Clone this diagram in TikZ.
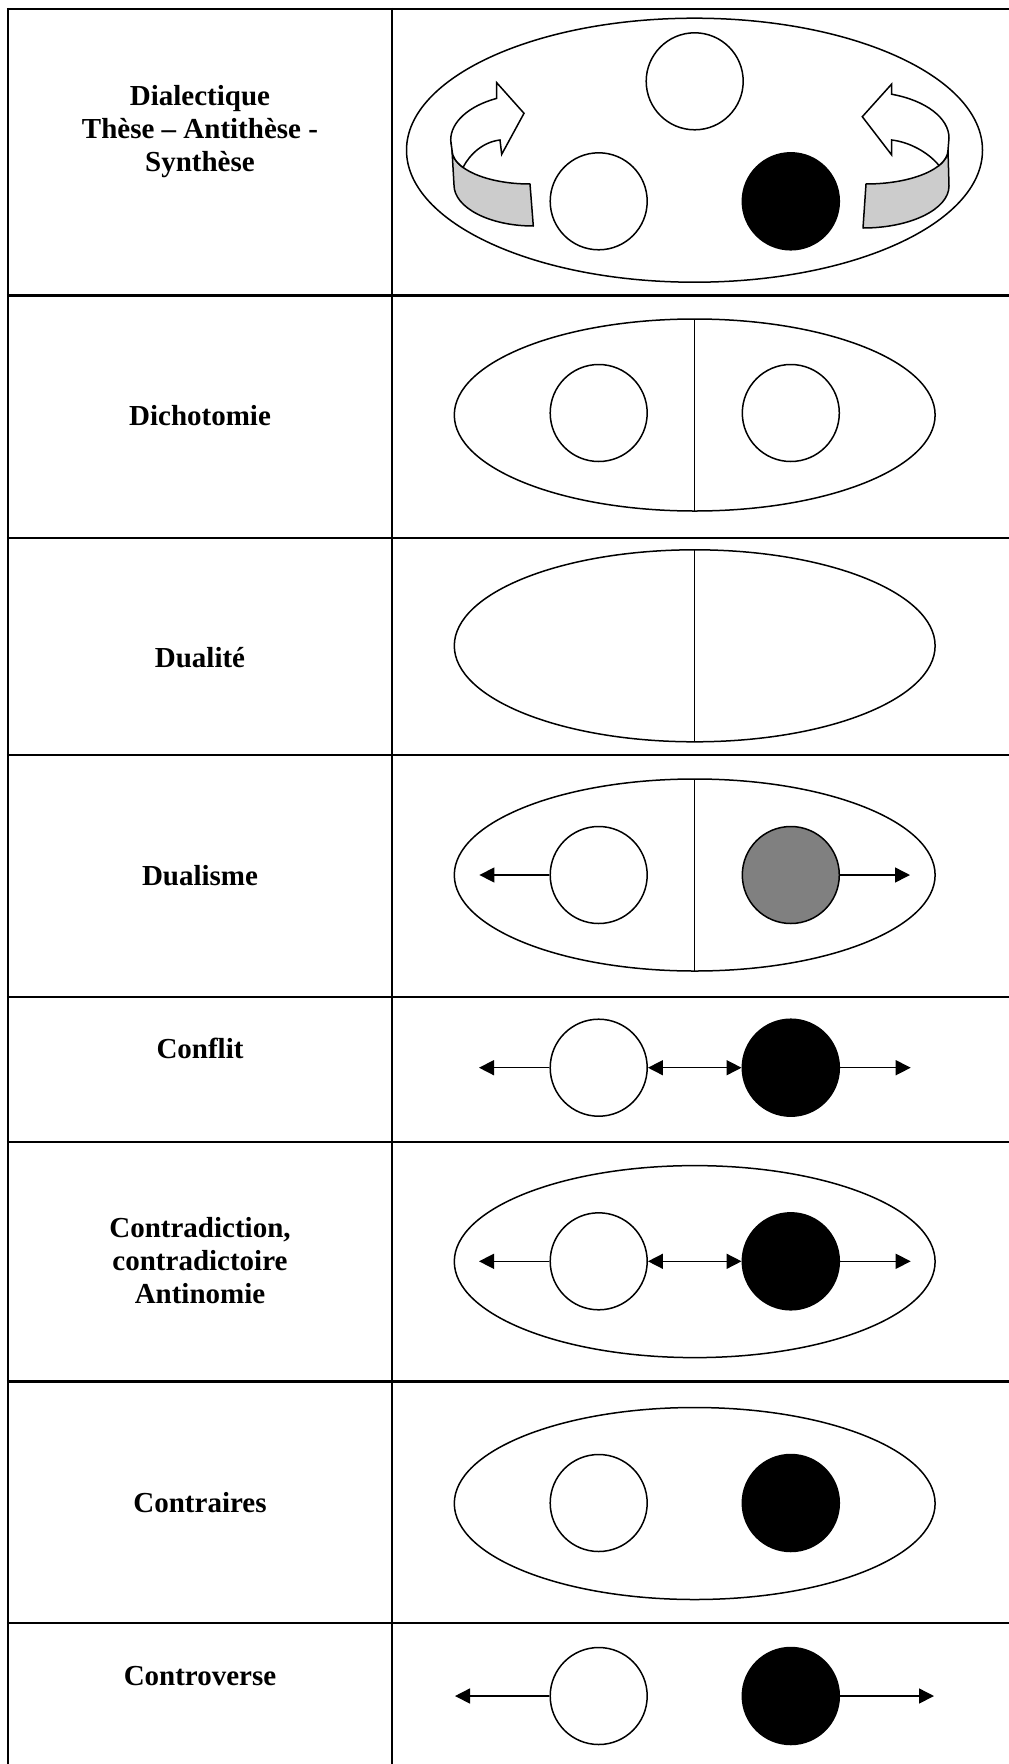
\documentclass[tikz,border=0pt]{standalone}
\usepackage{fontspec}
\setmainfont{Liberation Serif}
\usetikzlibrary{arrows.meta}
\begin{document}
\begin{tikzpicture}[x=1pt,y=-1pt,
  tbl/.style={line width=2.2pt},
  shp/.style={line width=1.5pt},
  circ/.style={circle, draw, line width=1.5pt, minimum size=97pt, inner sep=0pt, fill=white},
  lbl/.style={font=\fontsize{29}{33}\selectfont\bfseries, align=center, inner sep=0pt},
  arr/.style={line width=1.5pt, -{Triangle[length=15pt,width=15pt]}},
  darr/.style={line width=1.5pt, {Triangle[length=15pt,width=15pt]}-{Triangle[length=15pt,width=15pt]}},
  band/.style={line width=1.5pt, fill=black!20, line join=round},
  barrow/.style={line width=1.5pt, fill=white, line join=miter}
]
\useasboundingbox (0,0) rectangle (1009,1764);
\fill[white] (0,0) rectangle (1009,1764);

% table
\foreach \yy in {9,295.5,538,755,997,1142,1381.5,1623}
  \draw[tbl] (6.9,\yy) -- (1009,\yy);
\draw[tbl] (8,7.9) -- (8,1764);
\draw[tbl] (392,7.9) -- (392,1764);

% labels
\node[lbl] (t1) at (200,131.4) {Dialectique\\Thèse – Antithèse -\\Synthèse};
\node[lbl, anchor=base] (t2) at (200,425) {Dichotomie};
\node[lbl, anchor=base] (t3) at (200,667) {Dualité};
\node[lbl, anchor=base] (t4) at (200,885) {Dualisme};
\node[lbl, anchor=base] (t5) at (200,1058.6) {Conflit};
\node[lbl] (t6) at (200,1260.2) {Contradiction,\\contradictoire\\Antinomie};
\node[lbl, anchor=base] (t7) at (200,1512) {Contraires};
\node[lbl, anchor=base] (t8) at (200,1685) {Controverse};

% row 1: dialectique
\draw[shp] (694.5,150.2) ellipse [x radius=288, y radius=132];
% left curved arrow
\draw[band] (452,150) arc[start angle=180, end angle=90, x radius=78, y radius=34]
  -- (533.3,226) arc[start angle=90, end angle=180, x radius=79.3, y radius=41] -- cycle;
\draw[barrow] (452,150) -- (450.7,140)
  arc[start angle=180, end angle=244.85, x radius=80, y radius=46]
  -- (496.7,82.7) -- (524,113.3) -- (501.7,154.3) -- (500,140)
  .. controls (483,142) and (470,154) .. (463,167.4)
  arc[start angle=149.2, end angle=180, x radius=78, y radius=34] -- cycle;
% right curved arrow
\draw[band] (948,150) arc[start angle=0, end angle=90, x radius=82, y radius=34]
  -- (863,228) arc[start angle=90, end angle=0, x radius=86, y radius=42] -- cycle;
\draw[barrow] (948,150) -- (949,138)
  arc[start angle=0, end angle=-72, x radius=83, y radius=46]
  -- (891.7,84) -- (862.3,116.7) -- (891.7,155) -- (891.7,140)
  .. controls (909,142) and (928,152) .. (939,165.5)
  arc[start angle=27.1, end angle=0, x radius=82, y radius=34] -- cycle;
\node[circ] (s1) at (694.7,81.3) {};
\node[circ] (a1) at (598.7,201.3) {};
\node[circ, fill=black] (b1) at (790.8,201.3) {};

% row 2: dichotomie
\draw[shp] (694.7,415) ellipse [x radius=240.4, y radius=96];
\draw[shp] (694.7,319) -- (694.7,511);
\node[circ] (a2) at (598.7,413) {};
\node[circ] (b2) at (790.8,413) {};

% row 3: dualite
\draw[shp] (694.7,645.8) ellipse [x radius=240.4, y radius=96];
\draw[shp] (694.7,549.8) -- (694.7,741.8);

% row 4: dualisme
\draw[shp] (694.7,875) ellipse [x radius=240.4, y radius=96];
\draw[shp] (694.7,779) -- (694.7,971);
\node[circ] (a4) at (598.7,875) {};
\node[circ, fill=black!50] (b4) at (790.8,875) {};
\coordinate (l4) at (479.4,875);
\coordinate (r4) at (910,875);
\draw[arr] (a4.west) -- (l4);
\draw[arr] (b4.east) -- (r4);

% row 5: conflit
\node[circ] (a5) at (598.7,1067.7) {};
\node[circ, fill=black] (b5) at (790.8,1067.7) {};
\coordinate (l5) at (479,1067.7);
\coordinate (r5) at (910.7,1067.7);
\draw[arr] (a5.west) -- (l5);
\draw[arr] (b5.east) -- (r5);
\draw[darr] (a5.east) -- (b5.west);

% row 6: contradiction
\draw[shp] (694.7,1261.6) ellipse [x radius=240.4, y radius=96];
\node[circ] (a6) at (598.7,1261.3) {};
\node[circ, fill=black] (b6) at (790.8,1261.3) {};
\coordinate (l6) at (479,1261.3);
\coordinate (r6) at (910.7,1261.3);
\draw[arr] (a6.west) -- (l6);
\draw[arr] (b6.east) -- (r6);
\draw[darr] (a6.east) -- (b6.west);

% row 7: contraires
\draw[shp] (694.7,1503.5) ellipse [x radius=240.4, y radius=96];
\node[circ] (a7) at (598.7,1503) {};
\node[circ, fill=black] (b7) at (790.8,1503) {};

% row 8: controverse
\node[circ] (a8) at (598.7,1696) {};
\node[circ, fill=black] (b8) at (790.8,1696) {};
\coordinate (l8) at (455,1696);
\coordinate (r8) at (934,1696);
\draw[arr] (a8.west) -- (l8);
\draw[arr] (b8.east) -- (r8);
\end{tikzpicture}
\end{document}
